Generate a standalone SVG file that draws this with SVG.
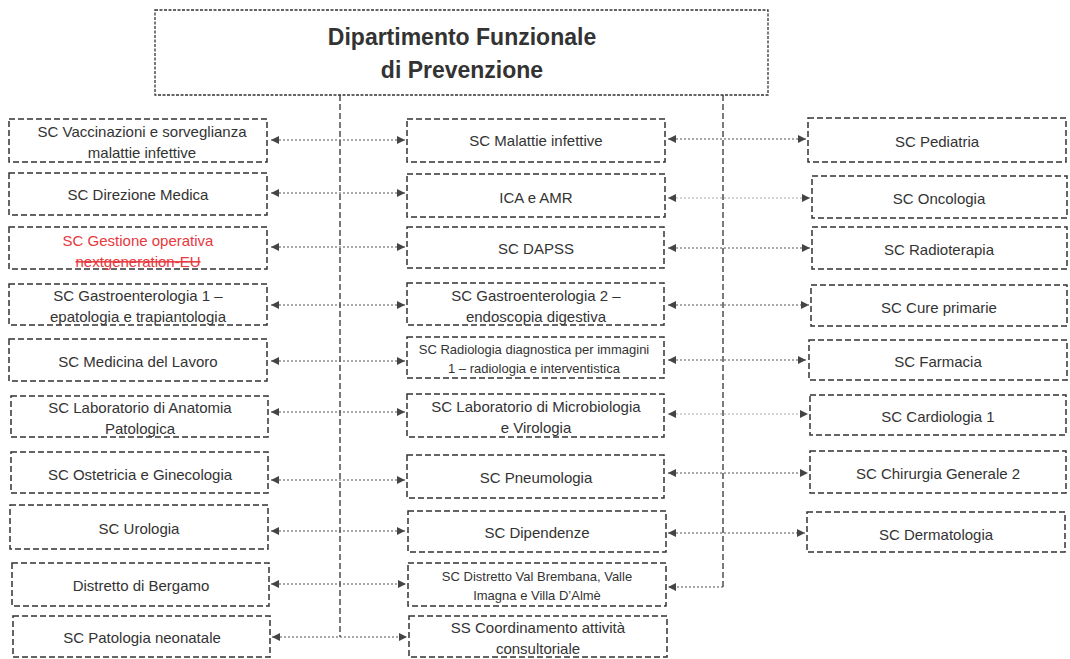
<svg xmlns="http://www.w3.org/2000/svg" width="1070" height="659" viewBox="0 0 1070 659">
<defs>
<style>
.box{fill:#fff;stroke:#333;stroke-width:1.5;stroke-dasharray:6 3}
.topbox{fill:#fff;stroke:#333;stroke-width:1.3;stroke-dasharray:3 1.5}
.t{font-family:"Liberation Sans",Arial,sans-serif;font-size:15px;fill:#333;text-anchor:middle;dominant-baseline:central}
.s{font-size:13px}
.title{font-family:"Liberation Sans",Arial,sans-serif;font-size:23px;font-weight:bold;fill:#333;text-anchor:middle;dominant-baseline:central}
.red{fill:#e8383d}
.trunk{fill:none;stroke:#333;stroke-width:1.3;stroke-dasharray:6 3}
.link{fill:none;stroke:#555;stroke-width:1.2;stroke-dasharray:2 2}
.faint{stroke:#aaa}
</style>
<marker id="ah" viewBox="0 0 10 10" refX="10" refY="5" markerWidth="9" markerHeight="8" markerUnits="userSpaceOnUse" orient="auto-start-reverse">
<path d="M0,0 L10,5 L0,10 z" fill="#444"/>
</marker>
</defs>
<rect width="1070" height="659" fill="#fff"/>

<g id="connectors">
<path class="trunk" d="M340,95 V637"/>
<path class="trunk" d="M723,95 V587"/>
<line class="link" x1="271" y1="140" x2="405" y2="140" marker-start="url(#ah)" marker-end="url(#ah)"/>
<line class="link" x1="271" y1="193" x2="405" y2="193" marker-start="url(#ah)" marker-end="url(#ah)"/>
<line class="link" x1="271" y1="247" x2="405" y2="247" marker-start="url(#ah)" marker-end="url(#ah)"/>
<line class="link" x1="271" y1="305" x2="405" y2="305" marker-start="url(#ah)" marker-end="url(#ah)"/>
<line class="link" x1="271" y1="361" x2="405" y2="361" marker-start="url(#ah)" marker-end="url(#ah)"/>
<line class="link" x1="271" y1="412" x2="405" y2="412" marker-start="url(#ah)" marker-end="url(#ah)"/>
<line class="link" x1="271" y1="480" x2="405" y2="480" marker-start="url(#ah)" marker-end="url(#ah)"/>
<line class="link" x1="271" y1="531" x2="405" y2="531" marker-start="url(#ah)" marker-end="url(#ah)"/>
<line class="link" x1="271" y1="584" x2="406" y2="584" marker-start="url(#ah)" marker-end="url(#ah)"/>
<line class="link" x1="272" y1="637" x2="407" y2="637" marker-start="url(#ah)" marker-end="url(#ah)"/>

<line class="link" x1="668" y1="139" x2="806" y2="139" marker-start="url(#ah)" marker-end="url(#ah)"/>
<line class="link faint" x1="668" y1="198" x2="810" y2="198" marker-start="url(#ah)" marker-end="url(#ah)"/>
<line class="link" x1="668" y1="248" x2="810" y2="248" marker-start="url(#ah)" marker-end="url(#ah)"/>
<line class="link" x1="668" y1="305" x2="809" y2="305" marker-start="url(#ah)" marker-end="url(#ah)"/>
<line class="link" x1="668" y1="360" x2="806" y2="360" marker-start="url(#ah)" marker-end="url(#ah)"/>
<line class="link faint" x1="668" y1="414" x2="808" y2="414" marker-start="url(#ah)" marker-end="url(#ah)"/>
<line class="link" x1="668" y1="473" x2="808" y2="473" marker-start="url(#ah)" marker-end="url(#ah)"/>
<line class="link" x1="668" y1="533" x2="805" y2="533" marker-start="url(#ah)" marker-end="url(#ah)"/>
<line class="link" x1="723" y1="587" x2="668" y2="587" marker-end="url(#ah)"/>
</g>

<g id="top">
<rect class="topbox" x="155" y="10" width="613" height="85"/>
<text class="title" x="462" y="37">Dipartimento Funzionale</text>
<text class="title" x="462" y="70">di Prevenzione</text>
</g>

<g id="l1"><rect class="box" x="9" y="119" width="258" height="43"/><text class="t" x="142" y="131">SC Vaccinazioni e sorveglianza</text><text class="t" x="142" y="152">malattie infettive</text></g>
<g id="l2"><rect class="box" x="9" y="173" width="258" height="42"/><text class="t" x="138" y="194">SC Direzione Medica</text></g>
<g id="l3"><rect class="box" x="9" y="227" width="258" height="42"/><text class="t red" x="138" y="240">SC Gestione operativa</text><text class="t red" x="138" y="261" text-decoration="line-through">nextgeneration-EU</text></g>
<g id="l4"><rect class="box" x="9" y="284" width="258" height="41"/><text class="t" x="138" y="295">SC Gastroenterologia 1 –</text><text class="t" x="138" y="316">epatologia e trapiantologia</text></g>
<g id="l5"><rect class="box" x="9" y="339" width="258" height="42"/><text class="t" x="138" y="361">SC Medicina del Lavoro</text></g>
<g id="l6"><rect class="box" x="11" y="396" width="257" height="41"/><text class="t" x="140" y="407">SC Laboratorio di Anatomia</text><text class="t" x="140" y="428">Patologica</text></g>
<g id="l7"><rect class="box" x="11" y="452" width="257" height="41"/><text class="t" x="140" y="474">SC Ostetricia e Ginecologia</text></g>
<g id="l8"><rect class="box" x="10" y="505" width="258" height="44"/><text class="t" x="139" y="528">SC Urologia</text></g>
<g id="l9"><rect class="box" x="12" y="563" width="257" height="43"/><text class="t" x="141" y="585">Distretto di Bergamo</text></g>
<g id="l10"><rect class="box" x="13" y="616" width="257" height="41"/><text class="t" x="142" y="637">SC Patologia neonatale</text></g>

<g id="m1"><rect class="box" x="407" y="119" width="258" height="43"/><text class="t" x="536" y="140">SC Malattie infettive</text></g>
<g id="m2"><rect class="box" x="407" y="174" width="258" height="43"/><text class="t" x="536" y="197">ICA e AMR</text></g>
<g id="m3"><rect class="box" x="407" y="227" width="257" height="41"/><text class="t" x="536" y="248">SC DAPSS</text></g>
<g id="m4"><rect class="box" x="407" y="283" width="257" height="42"/><text class="t" x="536" y="295">SC Gastroenterologia 2 –</text><text class="t" x="536" y="316">endoscopia digestiva</text></g>
<g id="m5"><rect class="box" x="407" y="337" width="257" height="41"/><text class="t s" x="534" y="349">SC Radiologia diagnostica per immagini</text><text class="t s" x="534" y="368">1 – radiologia e interventistica</text></g>
<g id="m6"><rect class="box" x="407" y="394" width="257" height="43"/><text class="t" x="536" y="406">SC Laboratorio di Microbiologia</text><text class="t" x="536" y="427">e Virologia</text></g>
<g id="m7"><rect class="box" x="407" y="455" width="257" height="43"/><text class="t" x="536" y="477">SC Pneumologia</text></g>
<g id="m8"><rect class="box" x="408" y="511" width="258" height="41"/><text class="t" x="537" y="532">SC Dipendenze</text></g>
<g id="m9"><rect class="box" x="408" y="563" width="258" height="43"/><text class="t s" x="537" y="576">SC Distretto Val Brembana, Valle</text><text class="t s" x="537" y="595">Imagna e Villa D’Almè</text></g>
<g id="m10"><rect class="box" x="409" y="616" width="258" height="41"/><text class="t" x="538" y="627">SS Coordinamento attività</text><text class="t" x="538" y="648">consultoriale</text></g>

<g id="r1"><rect class="box" x="808" y="118" width="258" height="44"/><text class="t" x="937" y="141">SC Pediatria</text></g>
<g id="r2"><rect class="box" x="812" y="176" width="255" height="42"/><text class="t" x="939" y="198">SC Oncologia</text></g>
<g id="r3"><rect class="box" x="812" y="227" width="255" height="42"/><text class="t" x="939" y="249">SC Radioterapia</text></g>
<g id="r4"><rect class="box" x="811" y="285" width="256" height="41"/><text class="t" x="939" y="307">SC Cure primarie</text></g>
<g id="r5"><rect class="box" x="809" y="340" width="258" height="40"/><text class="t" x="938" y="361">SC Farmacia</text></g>
<g id="r6"><rect class="box" x="810" y="395" width="256" height="40"/><text class="t" x="938" y="416">SC Cardiologia 1</text></g>
<g id="r7"><rect class="box" x="810" y="451" width="256" height="42"/><text class="t" x="938" y="473">SC Chirurgia Generale 2</text></g>
<g id="r8"><rect class="box" x="807" y="512" width="258" height="40"/><text class="t" x="936" y="534">SC Dermatologia</text></g>
</svg>
